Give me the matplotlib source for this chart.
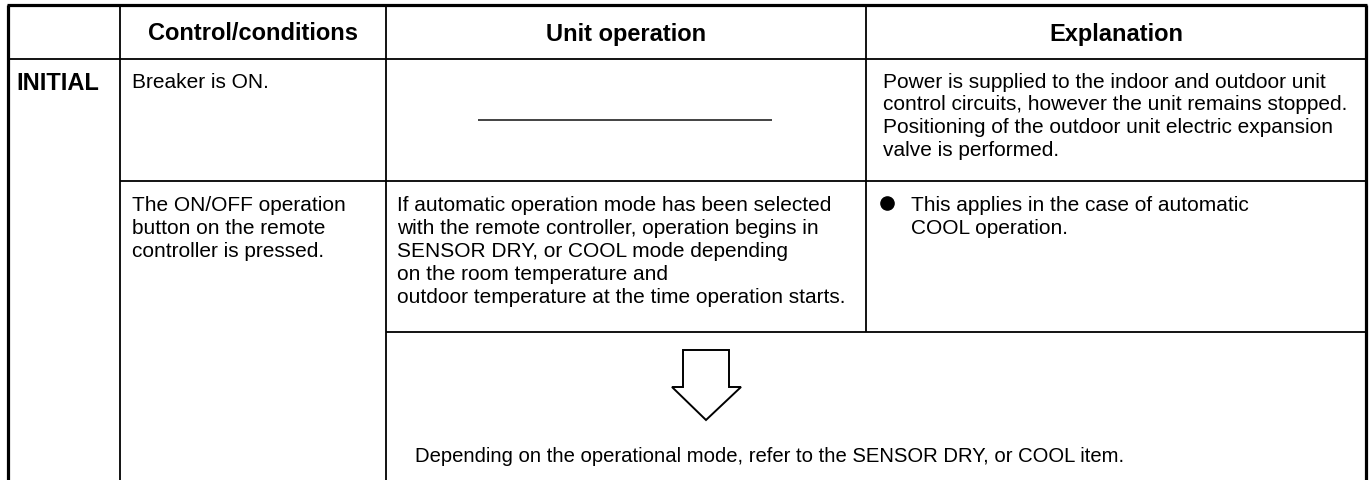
"""Tabla de control: modo INITIAL (dibujada con matplotlib)."""

import matplotlib
matplotlib.use("Agg")
import matplotlib.pyplot as plt
from matplotlib.patches import Polygon

plt.rcParams["font.family"] = ["Liberation Sans", "DejaVu Sans"]

W, H = 1369, 481

HEADERS    = ["Control/conditions", "Unit operation", "Explanation"]
ROW_LABEL  = "INITIAL"
COND_1     = ["Breaker is ON."]
COND_2     = ["The ON/OFF operation", "button on the remote", "controller is pressed."]
OPER_2     = ["If automatic operation mode has been selected",
              "with the remote controller, operation begins in",
              "SENSOR DRY, or COOL mode depending",
              "on the room temperature and",
              "outdoor temperature at the time operation starts."]
EXPL_1     = ["Power is supplied to the indoor and outdoor unit",
              "control circuits, however the unit remains stopped.",
              "Positioning of the outdoor unit electric expansion",
              "valve is performed."]
EXPL_2     = ["This applies in the case of automatic", "COOL operation."]
FOOTNOTE   = "Depending on the operational mode, refer to the SENSOR DRY, or COOL item."

# bordes de columnas y filas (px)
COL_X = [8, 120, 386, 866, 1366]
ROW_Y = [6, 60, 182, 333]

FS_BODY = 15.0
FS_FOOT = 14.6
FS_HEAD = 17.0
LINE_H  = 23.0
THICK   = 2.3
THIN    = 1.3

fig = plt.figure(figsize=(W / 100, H / 100), dpi=100)
ax = fig.add_axes([0, 0, 1, 1])
ax.set_xlim(0, W)
ax.set_ylim(H, 0)
ax.axis("off")


def hline(y, x0, x1, lw=THIN, color="black"):
    ax.plot([x0, x1], [y, y], color=color, lw=lw, solid_capstyle="butt")


def vline(x, y0, y1, lw=THIN):
    ax.plot([x, x], [y0, y1], color="black", lw=lw, solid_capstyle="butt")


def block(x, y_center, lines, fs=FS_BODY, weight="normal"):
    """Escribe líneas con el centro de mayúsculas en y_center, y_center+LINE_H..."""
    cap = 0.72 * fs * 100 / 72
    for i, s in enumerate(lines):
        ax.text(x, y_center + i * LINE_H + cap / 2, s, ha="left", va="baseline",
                fontsize=fs, fontweight=weight)


# marco
hline(ROW_Y[0], COL_X[0] - 1, COL_X[-1] + 1, lw=THICK)
vline(COL_X[0], ROW_Y[0], H, lw=THICK)
vline(COL_X[-1], ROW_Y[0], H, lw=THICK)
vline(COL_X[1], ROW_Y[0], H)
vline(COL_X[2], ROW_Y[0], H)
vline(COL_X[3], ROW_Y[0], ROW_Y[3])

hline(ROW_Y[1], COL_X[0], COL_X[-1])
hline(ROW_Y[2], COL_X[1], COL_X[-1])
hline(ROW_Y[3], COL_X[2], COL_X[-1])

# encabezados
cap_h = 0.72 * FS_HEAD * 100 / 72
for i, h in enumerate(HEADERS):
    xc = (COL_X[i + 1] + COL_X[i + 2]) / 2
    ax.text(xc, 32 + cap_h / 2, h, ha="center", va="baseline",
            fontsize=FS_HEAD, fontweight="bold")

block(16, 81, [ROW_LABEL], fs=FS_HEAD, weight="bold")

block(COL_X[1] + 12, 81, COND_1)
block(COL_X[3] + 17, 80, EXPL_1)
block(COL_X[1] + 12, 204, COND_2)
block(COL_X[2] + 11, 204, OPER_2)
block(COL_X[3] + 45, 204, EXPL_2)
ax.plot(COL_X[3] + 21, 204, "o", ms=9.5, color="black")

# línea de "sin operación"
hline(121, 478, 772, lw=1.2, color="#222222")

# flecha hacia abajo
arrow = Polygon([(683, 351), (729, 351), (729, 388), (741, 388),
                 (706, 421), (672, 388), (683, 388)],
                closed=True, facecolor="white", edgecolor="black", lw=1.4,
                joinstyle="miter")
ax.add_patch(arrow)

block(COL_X[2] + 29, 455, [FOOTNOTE], fs=FS_FOOT)

fig.savefig("out.png", dpi=100, facecolor="white")
